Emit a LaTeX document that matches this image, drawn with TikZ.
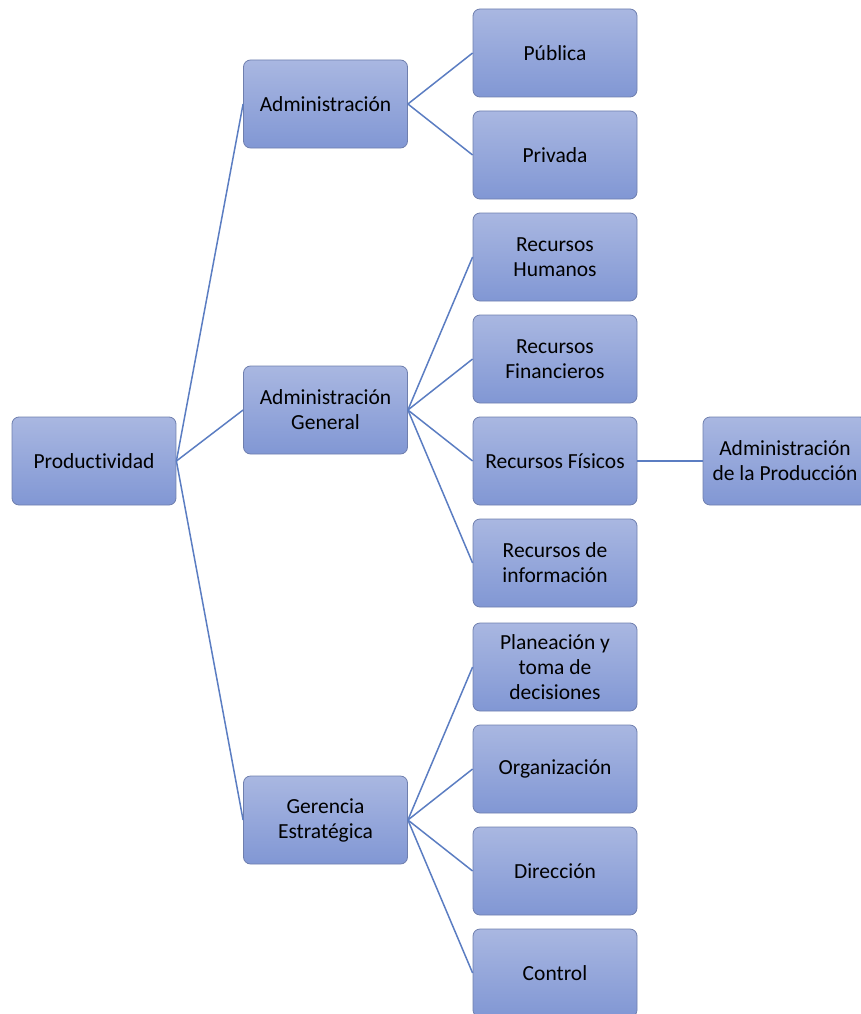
\documentclass[tikz,border=0pt]{standalone}
\usepackage{fontspec}
\setmainfont{Carlito}[Ligatures=NoCommon]
\begin{document}
\begin{tikzpicture}[x=1pt,y=-1pt,
  box/.style={draw=boxborder, line width=0.8pt, rounded corners=7pt,
    top color=boxtop, bottom color=boxbot, minimum width=164pt, minimum height=88pt,
    align=center, inner sep=2pt,
    font=\fontsize{21.5}{25}\selectfont},
  conn/.style={draw=linecol, line width=1.5pt}]
\definecolor{boxtop}{HTML}{A9B7E1}
\definecolor{boxbot}{HTML}{8197D4}
\definecolor{boxborder}{HTML}{6F7FAE}
\definecolor{linecol}{HTML}{5B7DC2}
\useasboundingbox (0,0) rectangle (861,1014);
\clip (0,0) rectangle (861,1014);
\node[box] (prod) at (94,461) {Productividad};
\node[box] (adm) at (325.5,104) {Administración};
\node[box] (admg) at (325.5,410) {Administración\\General};
\node[box] (ger) at (325.5,820) {Gerencia\\Estratégica};
\node[box] (pub) at (555,53) {Pública};
\node[box] (priv) at (555,155) {Privada};
\node[box] (rh) at (555,257) {Recursos\\Humanos};
\node[box] (rf) at (555,359) {Recursos\\Financieros};
\node[box] (rfis) at (555,461) {Recursos Físicos};
\node[box] (ri) at (555,563) {Recursos de\\información};
\node[box] (plan) at (555,667) {Planeación y\\toma de\\decisiones};
\node[box] (org) at (555,769) {Organización};
\node[box] (dir) at (555,871) {Dirección};
\node[box] (ctrl) at (555,973) {Control};
\node[box] (prodc) at (785,461) {Administración\\de la Producción};
\foreach \c in {adm,admg,ger} \draw[conn] (prod.east) -- (\c.west);
\foreach \c in {pub,priv} \draw[conn] (adm.east) -- (\c.west);
\foreach \c in {rh,rf,rfis,ri} \draw[conn] (admg.east) -- (\c.west);
\foreach \c in {plan,org,dir,ctrl} \draw[conn] (ger.east) -- (\c.west);
\draw[conn] (rfis.east) -- (prodc.west);
\end{tikzpicture}
\end{document}
